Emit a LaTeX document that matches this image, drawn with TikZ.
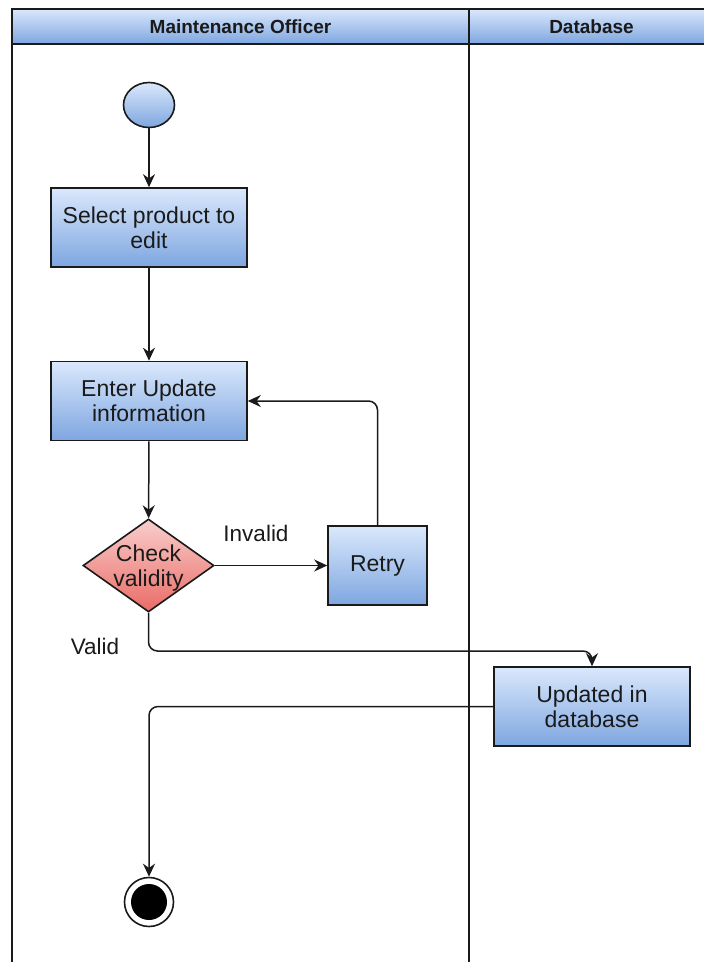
\documentclass[tikz,border=0pt]{standalone}
\usepackage{fontspec}
\setmainfont{Liberation Sans}
\usetikzlibrary{arrows.meta,shapes.geometric}
\definecolor{blueTop}{HTML}{DAE8FC}
\definecolor{blueBot}{HTML}{7EA6E0}
\definecolor{redTop}{HTML}{F8CECC}
\definecolor{redBot}{HTML}{EA6B66}
\definecolor{ink}{HTML}{1A1A1A}
\tikzset{
  poolline/.style={draw=ink, line width=2pt},
  lanehead/.style={top color=blueTop, bottom color=blueBot, draw=ink, line width=2pt},
  headtext/.style={font=\fontsize{19}{22}\selectfont\bfseries, text=ink},
  action/.style={rectangle, draw=ink, line width=1.6pt, top color=blueTop, bottom color=blueBot,
    minimum width=196pt, minimum height=79pt, inner sep=0pt, align=center,
    font=\fontsize{23}{25}\selectfont, text=ink},
  decision/.style={diamond, draw=ink, line width=1.6pt, top color=redTop, bottom color=redBot,
    minimum width=131pt, minimum height=93pt, inner sep=0pt},
  startnode/.style={ellipse, draw=ink, line width=1.6pt, top color=blueTop, bottom color=blueBot,
    minimum width=51pt, minimum height=45pt, inner sep=0pt},
  endring/.style={circle, draw=ink, line width=1.6pt, fill=white, minimum size=49pt, inner sep=0pt},
  enddot/.style={circle, fill=black, minimum size=36pt, inner sep=0pt},
  flow/.style={draw=ink, line width=1.5pt, rounded corners=9pt, -{Stealth[length=13pt,width=12pt]}},
  edgelabel/.style={font=\fontsize{22.5}{25}\selectfont, text=ink},
}
\begin{document}
\begin{tikzpicture}[x=1pt, y=-1pt]
\useasboundingbox (0,0) rectangle (704,962);
\clip (0,0) rectangle (704,962);

% swimlane pool
\fill[white] (0,0) rectangle (704,962);
\path[lanehead] (12,9) rectangle (469,44);
\path[lanehead] (469,9) rectangle (714,44);
\draw[poolline] (12,44) -- (12,970);
\draw[poolline] (469,44) -- (469,970);
\node[headtext] (laneA) at (240.5,26.5) {Maintenance Officer};
\node[headtext] (laneB) at (591.5,26.5) {Database};

% activity nodes
\node[startnode] (start) at (149,105) {};
\node[action] (select) at (149,227.5) {Select product to\\edit};
\node[action] (enter) at (149,401) {Enter Update\\information};
\node[decision, label={[align=center, font=\fontsize{23}{25}\selectfont, text=ink, yshift=-3pt]center:Check\\validity}] (check) at (148.5,565.5) {};
\node[action, minimum width=99pt] (retry) at (377.5,565.5) {Retry};
\node[action] (updated) at (592,706.5) {Updated in\\database};
\node[endring] (finish) at (149,902) {};
\node[enddot] (finishdot) at (finish.center) {};

% connectors
\draw[flow] (start) -- (select);
\draw[flow] (select) -- (enter);
\draw[flow] (enter) -- (check);
\draw[flow] (check) -- (retry);
\draw[flow] (retry.north) |- (enter.east);
\draw[flow] (check.south) |- (370,651) -| (updated.north);
\draw[flow] (updated.west) -| (finish.north);

% guard labels
\node[edgelabel] (lblInvalid) at (256,533) {Invalid};
\node[edgelabel] (lblValid) at (95,646) {Valid};
\end{tikzpicture}
\end{document}
